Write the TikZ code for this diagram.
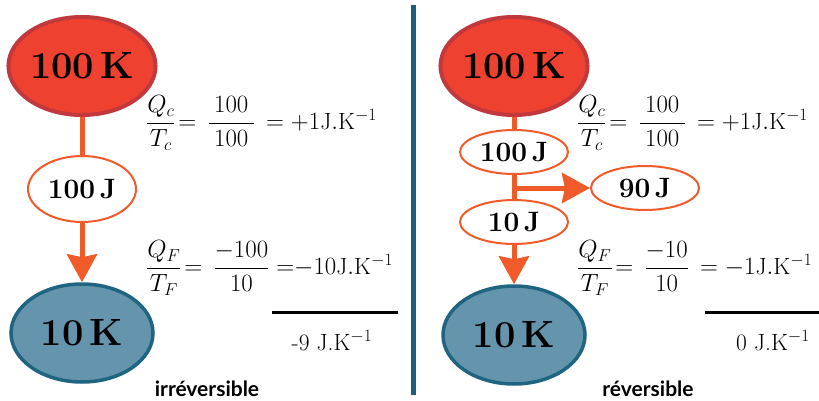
\documentclass[tikz,border=0pt]{standalone}
\usepackage{fontspec}
\newfontfamily\latofont{Lato}
\usepackage{amsmath}
\usepackage{tikz}
\usetikzlibrary{arrows.meta, positioning, shapes.geometric}

\definecolor{hotfill}{HTML}{EF4130}
\definecolor{hotdraw}{HTML}{C1393D}
\definecolor{coldfill}{HTML}{6595AD}
\definecolor{colddraw}{HTML}{1F6480}
\definecolor{flux}{HTML}{F15A29}
\definecolor{sep}{HTML}{1A5F7A}

\begin{document}
\begin{tikzpicture}[x=1pt, y=-1pt,
  hot/.style={ellipse, draw=hotdraw, fill=hotfill, line width=4pt,
    minimum width=142pt, minimum height=98pt, inner sep=0pt,
    font=\fontsize{38}{44}\selectfont\bfseries},
  cold/.style={ellipse, draw=colddraw, fill=coldfill, line width=3.5pt,
    minimum width=142pt, minimum height=98pt, inner sep=0pt,
    font=\fontsize{38}{44}\selectfont\bfseries},
  heat/.style={ellipse, draw=flux, fill=white, line width=2pt,
    minimum width=108pt, inner sep=0pt,
    font=\fontsize{28}{32}\selectfont\bfseries},
  formula/.style={font=\fontsize{23.5}{28}\selectfont, inner sep=0pt},
  flow/.style={draw=flux, line width=5pt},
  flowarrow/.style={flow, -{Stealth[length=28pt, width=30pt, inset=3pt]}},
  caption/.style={font=\latofont\fontsize{21}{24}\selectfont\bfseries}]

  \useasboundingbox (0,0) rectangle (819,401);

  % --- irreversible case -------------------------------------------
  \node[hot]  (hotA)  at (82,66)  {100\,K};
  \node[heat, minimum height=66pt] (qA) at (82,189) {100\,J};
  \node[cold] (coldA) at (82,333) {10\,K};

  \draw[flow] (hotA) -- (qA);
  \draw[flowarrow] (qA) -- (coldA);

  \node[formula, anchor=west] (sA1) at (146,123)
    {$\dfrac{Q_c}{T_c}\!=\,\dfrac{\mkern4mu 100\mkern4mu}{100}\,=+1\mathrm{J.K}^{-1}$};
  \node[formula, anchor=west] (sA2) at (146,268)
    {$\dfrac{Q_F}{T_F}\!=\,\dfrac{-100}{10}=\mkern-5mu{-}10\mathrm{J.K}^{-1}$};
  \draw[line width=3pt] (272,312) -- (398,312);
  \node[formula] (totA) at (332,341) {-9 J.K$^{-1}$};
  \node[caption] (capA) at (207,389) {irréversible};

  % separator
  \draw[sep, line width=5pt] (413,5) -- (413,395);

  % --- reversible case ---------------------------------------------
  \node[hot]  (hotB)  at (514,66)  {100\,K};
  \node[heat, minimum height=44pt] (qB)  at (514,152) {100\,J};
  \node[heat, minimum height=44pt] (wB)  at (645,188) {90\,J};
  \node[heat, minimum height=44pt] (rB)  at (514,222) {10\,J};
  \node[cold] (coldB) at (514,335) {10\,K};

  \coordinate (split) at (514,188);
  \draw[flow] (hotB) -- (qB);
  \draw[flow] (qB) -- (rB);
  \draw[flowarrow] (split) -- (wB);
  \draw[flowarrow] (rB) -- (coldB);

  \node[formula, anchor=west] (sB1) at (577,123)
    {$\dfrac{Q_c}{T_c}\!=\,\dfrac{\mkern4mu 100\mkern4mu}{100}\,=+1\mathrm{J.K}^{-1}$};
  \node[formula, anchor=west] (sB2) at (577,268)
    {$\dfrac{Q_F}{T_F}\!=\,\dfrac{-10}{10}\,= -1\mathrm{J.K}^{-1}$};
  \draw[line width=3pt] (705,312) -- (819,312);
  \node[formula] (totB) at (773,341) {0 J.K$^{-1}$};
  \node[caption] (capB) at (648,389) {réversible};
\end{tikzpicture}
\end{document}
